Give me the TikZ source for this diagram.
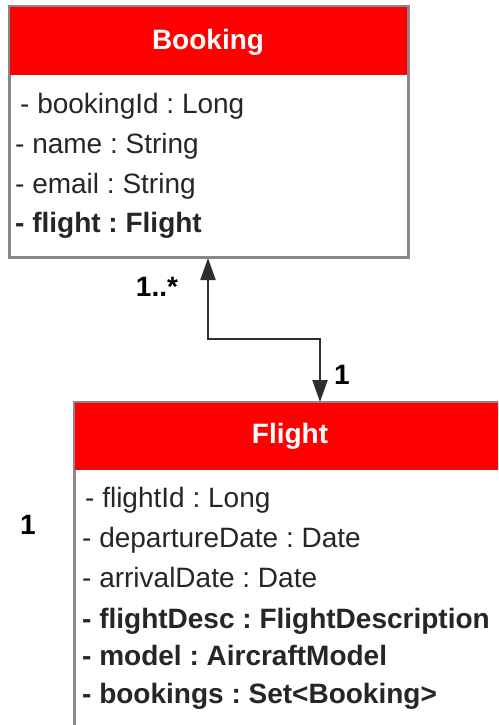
\documentclass[tikz,border=0pt]{standalone}
\usepackage{fontspec}
\setmainfont{Liberation Sans}
\usetikzlibrary{arrows.meta}
\definecolor{hdrred}{HTML}{FF0000}
\definecolor{boxborder}{HTML}{8E8686}
\definecolor{linkcol}{HTML}{2E2E2E}
\frenchspacing
\begin{document}
\begin{tikzpicture}[x=1pt,y=-1pt,
  classbox/.style={draw=boxborder, line width=2pt, fill=white, anchor=north west, inner sep=0pt},
  classhead/.style={fill=hdrred, anchor=north west, inner sep=0pt},
  classtitle/.style={inner sep=0pt, anchor=base, text=white, font=\fontsize{28}{32}\selectfont\bfseries},
  attr/.style={anchor=base west, inner sep=0pt, text=black!85, font=\fontsize{28}{32}\selectfont},
  attrb/.style={attr, font=\fontsize{28}{32}\selectfont\bfseries},
  mult/.style={inner sep=0pt, font=\fontsize{28}{32}\selectfont\bfseries},
  link/.style={draw=linkcol, line width=2pt, {Triangle[length=22pt,width=15pt]}-{Triangle[length=22pt,width=15pt]}}
]
\useasboundingbox (0,0) rectangle (498,725);
\clip (0,0) rectangle (498,725);
% Booking
\node[classbox, minimum width=398pt, minimum height=250pt] (booking) at (9,6) {};
\node[classhead, minimum width=398pt, minimum height=69pt] (bookinghead) at (9,6) {};
\node[classtitle] (bookingtitle) at (208,50) {Booking};
\draw[draw=boxborder, line width=2pt] (booking.north west) rectangle (booking.south east);
\node[attr] (b1) at (20,113) {- bookingId : Long};
\node[attr] (b2) at (15,153) {- name : String};
\node[attr] (b3) at (15,193) {- email : String};
\node[attrb] (b4) at (15,232) {- flight : Flight};
% Flight
\node[classbox, minimum width=432pt, minimum height=340pt] (flight) at (74,402) {};
\node[classhead, minimum width=432pt, minimum height=68pt] (flighthead) at (74,402) {};
\node[classtitle] (flighttitle) at (290,443) {Flight};
\draw[draw=boxborder, line width=2pt] (flight.north west) rectangle (flight.south east);
\node[attr] (f1) at (85,507) {- flightId : Long};
\node[attr] (f2) at (82,547) {- departureDate : Date};
\node[attr] (f3) at (82,587) {- arrivalDate : Date};
\node[attrb] (f4) at (82,628) {- flightDesc : FlightDescription};
\node[attrb] (f5) at (82,665) {- model : AircraftModel};
\node[attrb] (f6) at (82,703) {- bookings : Set<Booking>};
% connector
\coordinate (bend1) at (208,339);
\coordinate (bend2) at (320,339);
\draw[link] (booking.south -| bend1) -- (bend1) -- (bend2) -- (flight.north -| bend2);
\node[mult] (m1) at (157,287) {1..*};
\node[mult] (m2) at (342,375) {1};
\node[mult] (m3) at (28,525) {1};
\end{tikzpicture}
\end{document}
